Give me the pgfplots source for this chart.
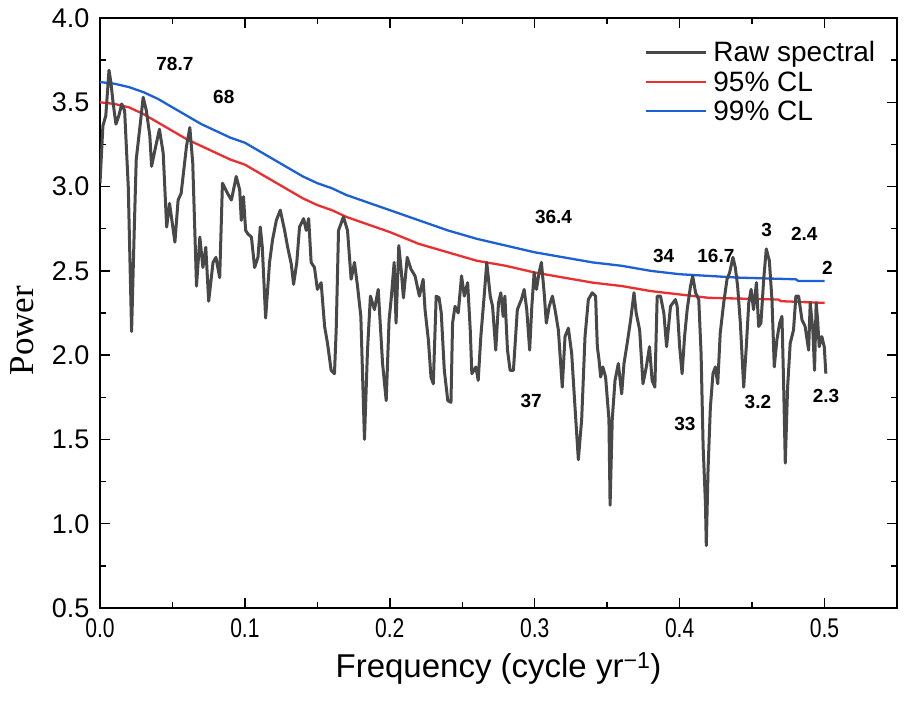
\documentclass[border=0pt]{standalone}
\usepackage{fontspec}
\setmainfont{Liberation Sans}
\newfontfamily\timesfont{Liberation Serif}
\usepackage{graphicx}
\usepackage{pgfplots}
\pgfplotsset{compat=1.18}
\definecolor{rawgray}{RGB}{72,72,72}
\definecolor{clred}{RGB}{236,46,46}
\definecolor{clblue}{RGB}{28,96,214}

\begin{document}
\begin{tikzpicture}
\begin{axis}[
  name=ax,
  scale only axis,
  width=797pt, height=590pt,
  xmin=0, xmax=0.55, ymin=0.5, ymax=4.0,
  xtick={0,0.1,0.2,0.3,0.4,0.5},
  minor xtick={0.05,0.15,0.25,0.35,0.45},
  ytick={0.5,1.0,1.5,2.0,2.5,3.0,3.5,4.0},
  minor ytick={0.75,1.25,1.75,2.25,2.75,3.25,3.75},
  tick align=inside,
  major tick length=10pt, minor tick length=6pt,
  every tick/.style={black, line width=1.5pt},
  axis line style={line width=1.8pt},
  /pgf/number format/assume math mode=true,
  yticklabel={\pgfmathprintnumber[fixed,fixed zerofill,precision=1]{\tick}},
  xticklabel={\scalebox{0.78}[1]{\pgfmathprintnumber[fixed,fixed zerofill,precision=1]{\tick}}},
  ticklabel style={font=\fontsize{27}{30}\selectfont},
  yticklabel style={xshift=-7pt},
  xticklabel style={yshift=-7pt},
  xlabel={Frequency (cycle yr\textsuperscript{−1})},
  xlabel style={font=\fontsize{33}{36}\selectfont, at={(axis description cs:0.5,-0.1017)}, anchor=center},
  ylabel={\timesfont Power},
  ylabel style={font=\fontsize{35}{37}\selectfont, at={(axis description cs:-0.098,0.47)}, anchor=center},
  legend style={draw=none, fill=none, at={(axis description cs:0.679,0.967)}, anchor=north west,
    font=\fontsize{28}{30}\selectfont, cells={anchor=west}, row sep=4pt},
  legend image code/.code={\draw[#1] (0pt,0pt) -- (60pt,0pt); \path (64pt,0pt);},
]
\addlegendimage{rawgray, line width=3pt}
\addlegendentry{Raw spectral}

\addplot[clred, line width=2.3pt] coordinates {
(0,3.50) (0.01,3.49) (0.02,3.47) (0.03,3.43) (0.04,3.38) (0.05,3.33) (0.06,3.28)
(0.07,3.24) (0.08,3.20) (0.09,3.16) (0.10,3.13) (0.11,3.08) (0.12,3.03) (0.13,2.98)
(0.14,2.93) (0.15,2.89) (0.16,2.86) (0.17,2.82) (0.18,2.79) (0.19,2.76) (0.20,2.73)
(0.22,2.66) (0.24,2.61) (0.26,2.56) (0.28,2.53) (0.30,2.49) (0.32,2.46) (0.34,2.43)
(0.36,2.41) (0.38,2.38) (0.40,2.36) (0.41,2.35) (0.42,2.34) (0.468,2.33) (0.47,2.32)
(0.50,2.31)
};
\addlegendentry{95\% CL}

\addplot[clblue, line width=2.3pt] coordinates {
(0,3.62) (0.01,3.61) (0.02,3.59) (0.03,3.56) (0.04,3.52) (0.05,3.47) (0.06,3.42)
(0.07,3.37) (0.08,3.33) (0.09,3.29) (0.10,3.26) (0.11,3.21) (0.12,3.16) (0.13,3.11)
(0.14,3.06) (0.15,3.02) (0.16,2.99) (0.17,2.95) (0.18,2.92) (0.19,2.89) (0.20,2.86)
(0.22,2.80) (0.24,2.74) (0.26,2.69) (0.28,2.65) (0.30,2.61) (0.32,2.58) (0.34,2.55)
(0.36,2.53) (0.38,2.50) (0.40,2.48) (0.42,2.47) (0.44,2.46) (0.48,2.45) (0.482,2.44)
(0.50,2.44)
};
\addlegendentry{99\% CL}

\addplot[rawgray, line width=3pt, line join=round, forget plot] coordinates {
(0.000,3.02) (0.002,3.36) (0.004,3.42) (0.0062,3.69) (0.0075,3.62) (0.009,3.50)
(0.011,3.37) (0.013,3.42) (0.015,3.49) (0.017,3.45) (0.0195,3.00) (0.0218,2.14)
(0.0235,2.70) (0.025,3.16) (0.0275,3.35) (0.0298,3.53) (0.032,3.45) (0.0344,3.30)
(0.0356,3.12) (0.038,3.22) (0.041,3.34) (0.0436,3.20) (0.046,2.76) (0.048,2.90)
(0.0517,2.67) (0.0539,2.92) (0.056,2.96) (0.0597,3.24) (0.062,3.35) (0.064,3.14)
(0.0666,2.41) (0.0689,2.70) (0.071,2.52) (0.073,2.64) (0.075,2.32) (0.078,2.55)
(0.080,2.58) (0.0826,2.46) (0.0845,3.02) (0.088,2.96) (0.0907,2.92) (0.094,3.06)
(0.0964,2.98) (0.0975,2.80) (0.099,2.94) (0.1005,2.74) (0.102,2.72) (0.1045,2.70)
(0.1067,2.52) (0.109,2.58) (0.1106,2.76) (0.112,2.64) (0.1143,2.22) (0.117,2.55)
(0.119,2.68) (0.1217,2.80) (0.1244,2.86) (0.1274,2.74) (0.1295,2.64) (0.132,2.54)
(0.1336,2.42) (0.1358,2.55) (0.1377,2.76) (0.1405,2.81) (0.1423,2.74) (0.144,2.81)
(0.1457,2.55) (0.148,2.52) (0.150,2.39) (0.1526,2.43) (0.155,2.17) (0.157,2.07)
(0.1595,1.91) (0.1618,1.89) (0.163,2.15) (0.1646,2.74) (0.168,2.82) (0.1708,2.74)
(0.1733,2.45) (0.1756,2.55) (0.1777,2.41) (0.180,2.23) (0.1825,1.50) (0.1846,2.03)
(0.1866,2.35) (0.1894,2.27) (0.192,2.39) (0.195,1.95) (0.1975,1.73) (0.1995,2.21)
(0.2009,2.33) (0.203,2.55) (0.2043,2.19) (0.2062,2.65) (0.2078,2.51) (0.2094,2.34)
(0.212,2.58) (0.2146,2.51) (0.2174,2.47) (0.2204,2.35) (0.223,2.45) (0.2243,2.27)
(0.2266,2.09) (0.2284,1.87) (0.230,1.83) (0.232,2.35) (0.234,2.34) (0.2355,2.25)
(0.2376,1.91) (0.240,1.73) (0.2422,1.72) (0.2433,2.19) (0.245,2.29) (0.2472,2.25)
(0.2495,2.47) (0.2514,2.35) (0.2537,2.43) (0.2555,2.15) (0.2566,1.89) (0.2594,1.93)
(0.261,1.85) (0.2628,2.11) (0.2651,2.35) (0.2669,2.55) (0.2693,2.35) (0.2709,2.29)
(0.2731,2.03) (0.275,2.31) (0.2766,2.37) (0.2782,2.23) (0.2794,2.35) (0.2812,2.03)
(0.283,1.91) (0.2853,1.91) (0.288,2.27) (0.2908,2.33) (0.2927,2.39) (0.2945,2.27)
(0.2965,2.03) (0.298,2.29) (0.2996,2.49) (0.3012,2.39) (0.303,2.49) (0.3046,2.55)
(0.3065,2.37) (0.308,2.19) (0.310,2.29) (0.3122,2.35) (0.314,2.27) (0.3163,2.15)
(0.319,1.81) (0.3209,2.11) (0.3232,2.16) (0.3255,2.01) (0.3278,1.69) (0.3301,1.38)
(0.3324,1.62) (0.3347,2.11) (0.337,2.33) (0.3397,2.37) (0.342,2.35) (0.3432,2.05)
(0.3444,1.97) (0.3455,1.87) (0.347,1.93) (0.3489,1.87) (0.3512,1.62) (0.352,1.11)
(0.3535,1.62) (0.3554,1.85) (0.3577,1.95) (0.360,1.77) (0.3616,1.95) (0.3638,2.07)
(0.3662,2.21) (0.3685,2.37) (0.370,2.25) (0.3724,2.15) (0.3747,1.83) (0.377,1.93)
(0.3792,2.05) (0.381,1.85) (0.3829,1.81) (0.3845,2.35) (0.3868,2.35) (0.3891,2.25)
(0.391,2.05) (0.3937,2.29) (0.3971,2.33) (0.3983,2.29) (0.400,2.05) (0.4017,1.89)
(0.4034,2.11) (0.4052,2.27) (0.4075,2.41) (0.409,2.47) (0.411,2.37) (0.4132,2.33)
(0.4148,2.01) (0.4162,1.46) (0.4178,1.12) (0.4184,0.87) (0.4196,1.32) (0.4212,1.69)
(0.423,1.89) (0.4246,1.93) (0.4263,1.83) (0.428,2.13) (0.4304,2.31) (0.4327,2.45)
(0.4345,2.49) (0.4368,2.58) (0.4384,2.52) (0.440,2.41) (0.4419,2.19) (0.4442,1.81)
(0.446,2.05) (0.4477,2.31) (0.4493,2.39) (0.451,2.27) (0.453,2.43) (0.4545,2.17)
(0.4561,2.19) (0.458,2.45) (0.4598,2.63) (0.4619,2.56) (0.4637,2.33) (0.4653,1.93)
(0.4671,2.09) (0.469,2.19) (0.4706,2.23) (0.4717,1.85) (0.4729,1.36) (0.4745,1.81)
(0.4763,2.07) (0.4786,2.15) (0.4802,2.35) (0.4821,2.35) (0.4844,2.21) (0.4866,2.17)
(0.489,2.03) (0.4901,2.31) (0.4919,2.15) (0.4931,1.91) (0.4942,2.31) (0.4952,2.21)
(0.4963,2.05) (0.4981,2.11) (0.4998,2.05) (0.5009,1.89)
};

\begin{scope}[every node/.style={font=\bfseries\fontsize{19}{20}\selectfont}]
\node at (axis cs:0.0517,3.73) {78.7};
\node at (axis cs:0.0854,3.53) {68};
\node at (axis cs:0.313,2.82) {36.4};
\node at (axis cs:0.389,2.59) {34};
\node at (axis cs:0.425,2.59) {16.7};
\node at (axis cs:0.460,2.74) {3};
\node at (axis cs:0.486,2.72) {2.4};
\node at (axis cs:0.502,2.52) {2};
\node at (axis cs:0.501,1.76) {2.3};
\node at (axis cs:0.454,1.72) {3.2};
\node at (axis cs:0.4036,1.59) {33};
\node at (axis cs:0.2975,1.73) {37};
\end{scope}
\end{axis}
\pgfresetboundingbox
\path[use as bounding box] ([xshift=-100pt,yshift=-94pt]ax.south west) rectangle ([xshift=8pt,yshift=18pt]ax.north east);
\end{tikzpicture}
\end{document}
